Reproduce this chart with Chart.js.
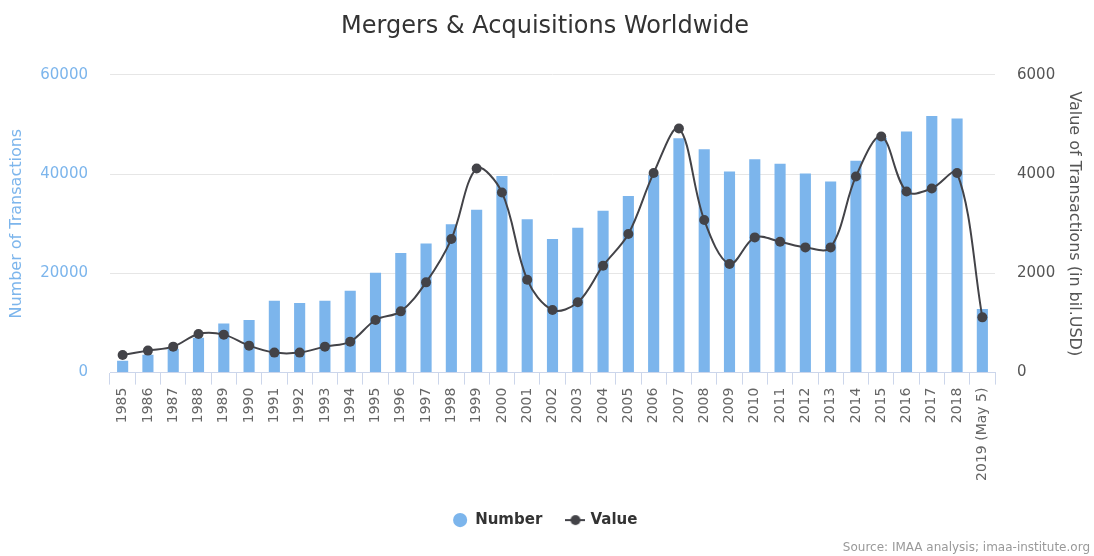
<!DOCTYPE html>
<html>
<head>
<meta charset="utf-8">
<script src="https://cdn.jsdelivr.net/npm/chart.js@4"></script>
<style>
  html, body { margin: 0; padding: 0; background: #fff; }
  #wrap { width: 1094px; height: 556px; }
</style>
</head>
<body>
<div id="wrap"><canvas id="maChart" width="1094" height="556"></canvas></div>
<script>
// Years shown on the x axis
const years = ['1985', '1986', '1987', '1988', '1989', '1990', '1991', '1992', '1993', '1994',
    '1995', '1996', '1997', '1998', '1999', '2000', '2001', '2002', '2003', '2004',
    '2005', '2006', '2007', '2008', '2009', '2010', '2011', '2012', '2013', '2014',
    '2015', '2016', '2017', '2018', '2019 (May 5)'];

// Number of transactions (bars, left axis)
const numberOfDeals = [2400, 3600, 4800, 7000, 9900, 10600, 14500, 14000, 14500, 16500,
    20100, 24100, 26000, 29900, 32800, 39600, 30900, 26900, 29200, 32600,
    35600, 39800, 47200, 45000, 40500, 43000, 42100, 40100, 38500, 42700,
    47300, 48600, 51700, 51200, 12800];

// Value of transactions in bil. USD (line, right axis)
const dealValue = [356, 443, 523, 779, 765, 543, 403, 403, 523, 624,
    1060, 1234, 1818, 2691, 4113, 3630, 1872, 1262, 1416, 2154,
    2792, 4020, 4918, 3073, 2188, 2724, 2637, 2523, 2523, 3952,
    4757, 3650, 3710, 4020, 1113];

const font = "'DejaVu Sans', sans-serif";

// small legend symbol for the line series: a line with a dot
function lineMarker() {
    const c = document.createElement('canvas');
    c.width = 20;
    c.height = 12;
    const g = c.getContext('2d');
    g.strokeStyle = '#434348';
    g.lineWidth = 2;
    g.beginPath();
    g.moveTo(0, 6);
    g.lineTo(20, 6);
    g.stroke();
    g.fillStyle = '#434348';
    g.beginPath();
    g.arc(10, 6, 5, 0, Math.PI * 2);
    g.fill();
    return c;
}

const ctx = document.getElementById('maChart').getContext('2d');
new Chart(ctx, {
    type: 'bar',
    data: {
        labels: years,
        datasets: [{
            label: 'Number',
            data: numberOfDeals,
            backgroundColor: '#7cb5ec',
            yAxisID: 'y',
            barPercentage: 0.44,
            categoryPercentage: 1,
            order: 2
        }, {
            type: 'line',
            label: 'Value',
            data: dealValue,
            borderColor: '#434348',
            backgroundColor: '#434348',
            borderWidth: 2,
            pointRadius: 5,
            pointBackgroundColor: '#434348',
            pointBorderWidth: 0,
            tension: 0.35,
            yAxisID: 'y1',
            order: 1
        }]
    },
    options: {
        responsive: false,
        animation: false,
        layout: { padding: { left: 0, right: 4, top: 0, bottom: 0 } },
        plugins: {
            title: {
                display: true,
                text: 'Mergers & Acquisitions Worldwide',
                color: '#333333',
                font: { family: font, size: 24, weight: 'normal' },
                padding: { top: 12, bottom: 34 }
            },
            subtitle: {
                display: true,
                position: 'bottom',
                align: 'end',
                text: 'Source: IMAA analysis; imaa-institute.org',
                color: '#999999',
                font: { family: font, size: 12 },
                padding: { top: 3, bottom: 1 }
            },
            legend: {
                position: 'bottom',
                labels: {
                    usePointStyle: true,
                    boxHeight: 10,
                    padding: 10,
                    color: '#333333',
                    font: { family: font, size: 15, weight: 'bold' },
                    sort: (a, b) => a.datasetIndex - b.datasetIndex,
                    generateLabels(chart) {
                        const items = Chart.defaults.plugins.legend.labels.generateLabels(chart);
                        items.forEach(item => {
                            if (item.datasetIndex === 0) {
                                item.pointStyle = 'circle';
                                item.lineWidth = 0;
                                item.text = item.text + '   ';
                            } else {
                                item.pointStyle = lineMarker();
                            }
                        });
                        return items;
                    }
                }
            },
            tooltip: { enabled: false }
        },
        scales: {
            x: {
                grid: {
                    drawOnChartArea: false,
                    color: '#ccd6eb',
                    tickLength: 12
                },
                border: { color: '#ccd6eb' },
                ticks: {
                    autoSkip: false,
                    minRotation: 90,
                    maxRotation: 90,
                    color: '#666666',
                    font: { family: font, size: 14 },
                    padding: 3
                },
                afterFit(scale) {
                    scale.height = 130;
                }
            },
            y: {
                position: 'left',
                min: 0,
                max: 60000,
                ticks: {
                    stepSize: 20000,
                    color: '#7cb5ec',
                    font: { family: font, size: 15 },
                    padding: 22,
                    callback: v => String(v)
                },
                grid: { color: '#e6e6e6', drawTicks: false },
                border: { display: false },
                title: {
                    display: true,
                    text: 'Number of Transactions',
                    color: '#7cb5ec',
                    font: { family: font, size: 16 },
                    padding: { top: 7, bottom: 18 }
                },
                afterFit(scale) {
                    scale.width = 110;
                }
            },
            y1: {
                position: 'right',
                min: 0,
                max: 6000,
                ticks: {
                    stepSize: 2000,
                    color: '#555555',
                    font: { family: font, size: 15 },
                    padding: 22,
                    callback: v => String(v)
                },
                grid: { drawOnChartArea: false, drawTicks: false },
                border: { display: false },
                title: {
                    display: true,
                    text: 'Value of Transactions (in bil.USD)',
                    color: '#555555',
                    font: { family: font, size: 16 },
                    padding: { top: 6, bottom: 13 }
                },
                afterFit(scale) {
                    scale.width = 95;
                }
            }
        }
    }
});
</script>
</body>
</html>
